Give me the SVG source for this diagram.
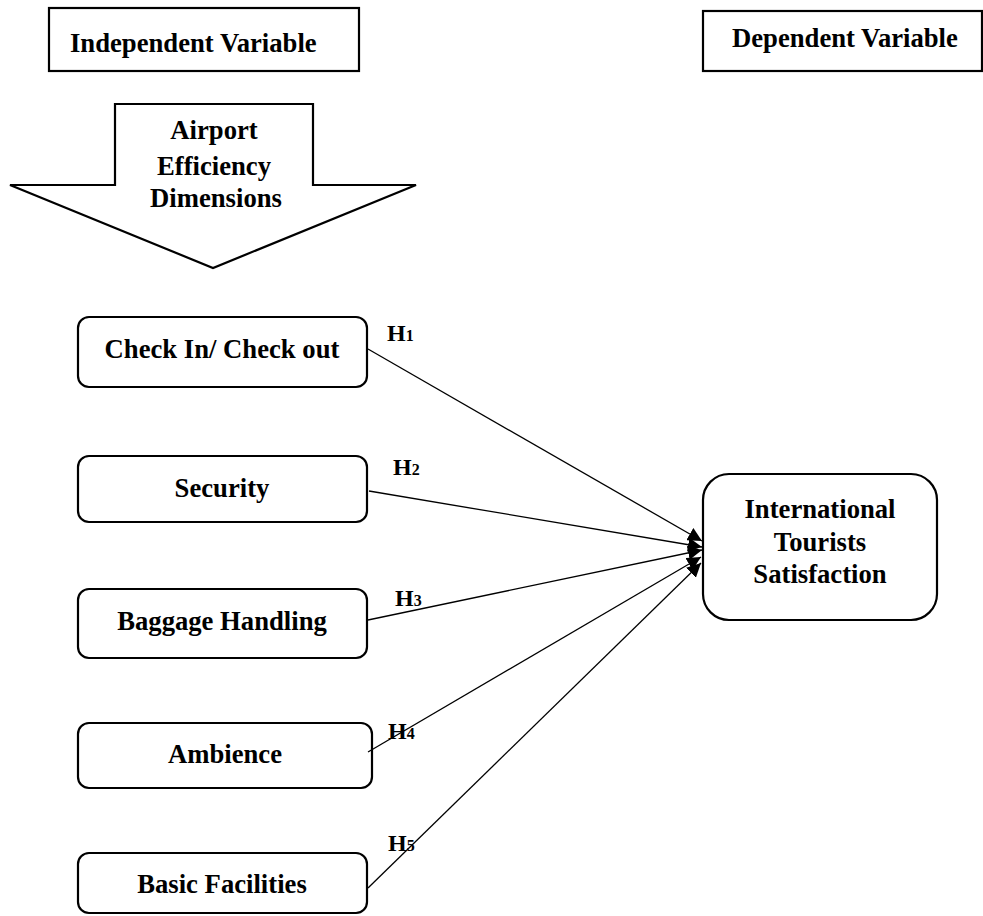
<svg xmlns="http://www.w3.org/2000/svg" width="983" height="916" viewBox="0 0 983 916">
<style>
.box{fill:#fff;stroke:#000;stroke-width:2.2}
.t{font-family:"Liberation Serif","Times New Roman",serif;font-weight:bold;font-size:26.67px;fill:#000}
.c{text-anchor:middle}
.h{font-family:"Liberation Serif","Times New Roman",serif;font-weight:bold;font-size:24px;fill:#000}
.sub{font-size:16px}
.ln{stroke:#000;stroke-width:1.3;fill:none;marker-end:url(#ah)}
</style>
<defs>
<marker id="ah" markerUnits="userSpaceOnUse" markerWidth="16" markerHeight="14" refX="14" refY="7" orient="auto">
<path d="M0,0 L14,7 L0,14 Z" fill="#000"/>
</marker>
</defs>
<g id="independent-variable">
<rect class="box" x="49" y="8" width="310" height="63"/>
<text class="t" x="70" y="52">Independent Variable</text>
</g>
<g id="dependent-variable">
<rect class="box" x="703" y="11" width="279" height="60"/>
<text class="t" x="732" y="47">Dependent Variable</text>
</g>
<g id="airport-efficiency">
<polygon class="box" points="115,104 313,104 313,185 416,185 213,268 10,185 115,185"/>
<text class="t c" x="214" y="139">Airport</text>
<text class="t c" x="214" y="175">Efficiency</text>
<text class="t c" x="216" y="207">Dimensions</text>
</g>
<g id="checkin">
<rect class="box" x="78" y="317" width="289" height="70" rx="11"/>
<text class="t c" x="222" y="358">Check In/ Check out</text>
</g>
<g id="security">
<rect class="box" x="78" y="456" width="289" height="66" rx="11"/>
<text class="t c" x="222" y="497">Security</text>
</g>
<g id="baggage">
<rect class="box" x="78" y="589" width="289" height="69" rx="11"/>
<text class="t c" x="222" y="630">Baggage Handling</text>
</g>
<g id="ambience">
<rect class="box" x="78" y="723" width="294" height="65" rx="11"/>
<text class="t c" x="225" y="763">Ambience</text>
</g>
<g id="basic-facilities">
<rect class="box" x="78" y="853" width="289" height="60" rx="11"/>
<text class="t c" x="222" y="893">Basic Facilities</text>
</g>
<g id="satisfaction">
<rect class="box" x="703" y="474" width="234" height="146" rx="26"/>
<text class="t c" x="820" y="518">International</text>
<text class="t c" x="820" y="551">Tourists</text>
<text class="t c" x="820" y="583">Satisfaction</text>
</g>
<g id="connectors">
<line class="ln" x1="368" y1="349" x2="702" y2="541"/>
<line class="ln" x1="369" y1="491" x2="702" y2="547"/>
<line class="ln" x1="368" y1="620" x2="702" y2="550"/>
<line class="ln" x1="368" y1="752" x2="701" y2="557"/>
<line class="ln" x1="368" y1="888" x2="701" y2="563"/>
</g>
<g id="labels">
<text class="h" x="387" y="341">H<tspan class="sub">1</tspan></text>
<text class="h" x="393" y="475">H<tspan class="sub">2</tspan></text>
<text class="h" x="395" y="606">H<tspan class="sub">3</tspan></text>
<text class="h" x="388" y="739">H<tspan class="sub">4</tspan></text>
<text class="h" x="388" y="851">H<tspan class="sub">5</tspan></text>
</g>
</svg>
